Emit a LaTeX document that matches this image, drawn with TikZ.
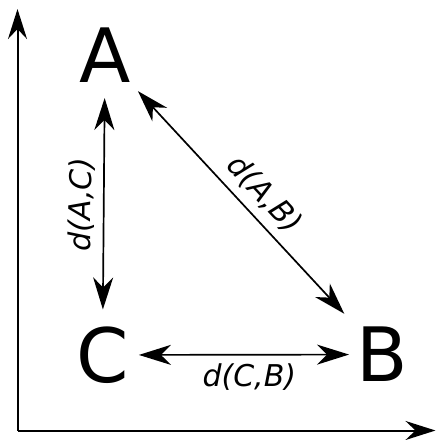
\documentclass[tikz,border=0pt]{standalone}
\usepackage{fontspec}
\setmainfont{DejaVu Sans}
\usetikzlibrary{arrows.meta}
\tikzset{
  vertex/.style={font=\fontsize{75}{75}\selectfont, inner sep=0pt},
  dist/.style={font=\fontsize{30}{30}\selectfont\itshape, inner sep=8pt},
  axis/.style={line width=2pt, -{Stealth[length=30pt,width=19pt,inset=10pt]}},
  link/.style={line width=1.7pt, {Stealth[length=32pt,width=20pt,inset=10pt]}-{Stealth[length=32pt,width=20pt,inset=10pt]}}
}
\begin{document}
\begin{tikzpicture}[x=1pt,y=-1pt]
    \useasboundingbox (0,0) rectangle (436,440);

    % Axes
    \coordinate (origin) at (17.5,430.5);
    \coordinate (ytop) at (17.5,9);
    \coordinate (xend) at (435.5,430.5);
    \draw[axis] (origin) -- (ytop);
    \draw[axis] (origin) -- (xend);

    % Points
    \node[vertex] (A) at (105,55.5) {A};
    \node[vertex] (B) at (382,354.5) {B};
    \node[vertex] (C) at (102.5,355) {C};

    % Distances
    \draw[link, shorten <=17pt, shorten >=15pt] (C) -- (A)
        node[dist, midway, above, sloped] {d(A,C)};
    \draw[link, shorten <=11pt, shorten >=18pt] (A) -- (B)
        node[dist, pos=0.52, above, sloped] {d(A,B)};
    \draw[link, shorten <=10pt, shorten >=7pt] (C) -- (B)
        node[dist, pos=0.53, below] {d(C,B)};
\end{tikzpicture}
\end{document}
